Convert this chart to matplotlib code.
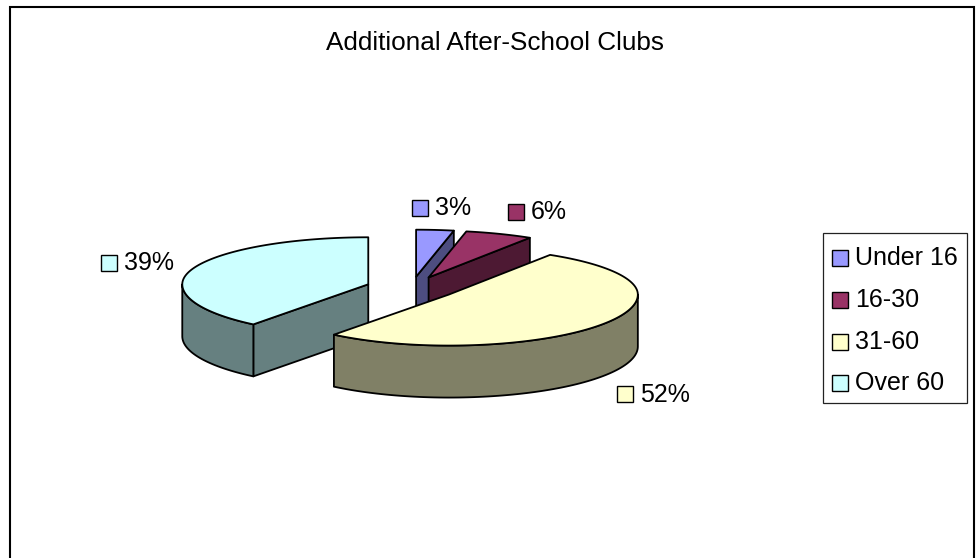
import numpy as np
import matplotlib
matplotlib.use("Agg")
import matplotlib.pyplot as plt
from matplotlib.patches import Polygon, Rectangle

# Data
categories = ["Under 16", "16-30", "31-60", "Over 60"]
values = [3.2, 5.8, 51.6, 39.4]
title = "Additional After-School Clubs"

# Style
top_colors = ["#9999FF", "#993366", "#FFFFCC", "#CCFFFF"]
side_colors = ["#4D4D80", "#4D1933", "#808066", "#668080"]
label_boxes = [(412, 207.5), (508, 211.5), (617, 394), (101, 262.5)]
legend_y = [257.7, 300, 341.7, 383.3]

CX, CY, A, A_LEFT, B, B_LOW, DEPTH, EXPLODE = 411.5, 288, 189, 186, 47, 51, 52, 0.242
LW = 1.3

plt.rcParams["font.family"] = ["Liberation Sans", "DejaVu Sans"]
fig = plt.figure(figsize=(9.77, 5.58), dpi=100)
ax = fig.add_axes([0, 0, 1, 1])
ax.set_xlim(0, 977)
ax.set_ylim(558, 0)
ax.axis("off")

ax.add_patch(Rectangle((10, 7), 964, 600, fc="white", ec="black", lw=1.5, zorder=0))


def point(c, t, dz=0):
    ca, sa = np.cos(t), np.sin(t)
    return (c[0] + (A if ca >= 0 else A_LEFT) * ca,
            c[1] - (B if sa >= 0 else B_LOW) * sa + dz)


def arc(c, t0, t1, dz=0):
    n = max(2, int(abs(t1 - t0) / np.radians(1.5)))
    ts = np.linspace(t0, t1, n)
    return [point(c, t, dz=dz) for t in ts]


total = sum(values)
angles = 90 - np.concatenate([[0], np.cumsum(values)]) / total * 360.0
slices = []
for i, v in enumerate(values):
    t0, t1 = np.radians(angles[i]), np.radians(angles[i + 1])
    mid = (t0 + t1) / 2
    c = (CX + EXPLODE * A * np.cos(mid), CY - EXPLODE * B * np.sin(mid))
    slices.append((i, t0, t1, c))

# Back slices first: Over 60, then the small ones, then 31-60 on top
for i, t0, t1, c in [slices[3], slices[0], slices[1], slices[2]]:
    kw = dict(ec="black", lw=LW, joinstyle="round")
    # radial walls
    for t, visible in ((t0, np.cos(t0) < -1e-6), (t1, np.cos(t1) > 1e-6)):
        if visible:
            e = point(c, t)
            ax.add_patch(Polygon([c, e, (e[0], e[1] + DEPTH), (c[0], c[1] + DEPTH)],
                                 fc=side_colors[i], **kw))
    # outer wall: lower half of the ellipse only (angles run from 90 down to -270)
    lo = max(t1, -np.pi)
    hi = min(t0, 0.0)
    if hi > lo:
        upper = arc(c, lo, hi)
        lower = arc(c, hi, lo, dz=DEPTH)
        ax.add_patch(Polygon(upper + lower, fc=side_colors[i], **kw))
    # top face
    ax.add_patch(Polygon([c] + arc(c, t0, t1), fc=top_colors[i], **kw))


def swatch(x, yc, color, size=16):
    ax.add_patch(Rectangle((x, yc - size / 2), size, size, fc=color, ec="black", lw=1.0, zorder=5))


# Data labels
for v, (x, y), col in zip(values, label_boxes, top_colors):
    swatch(x, y, col)
    ax.text(x + 23, y - 2, f"{round(v)}%", fontsize=18, va="center_baseline", ha="left", color="black", zorder=6)

# Title
ax.text(494.5, 41, title, fontsize=18.8, ha="center", va="center_baseline", color="black")

# Legend
ax.add_patch(Rectangle((822.7, 233.3), 144, 169.7, fc="white", ec="#222222", lw=0.9, zorder=4))
for name, y, col in zip(categories, legend_y, top_colors):
    swatch(832, y, col)
    ax.text(855, y - 2.5, name, fontsize=18, ha="left", va="center_baseline", color="black", zorder=6)

fig.savefig("out.png", dpi=100)
